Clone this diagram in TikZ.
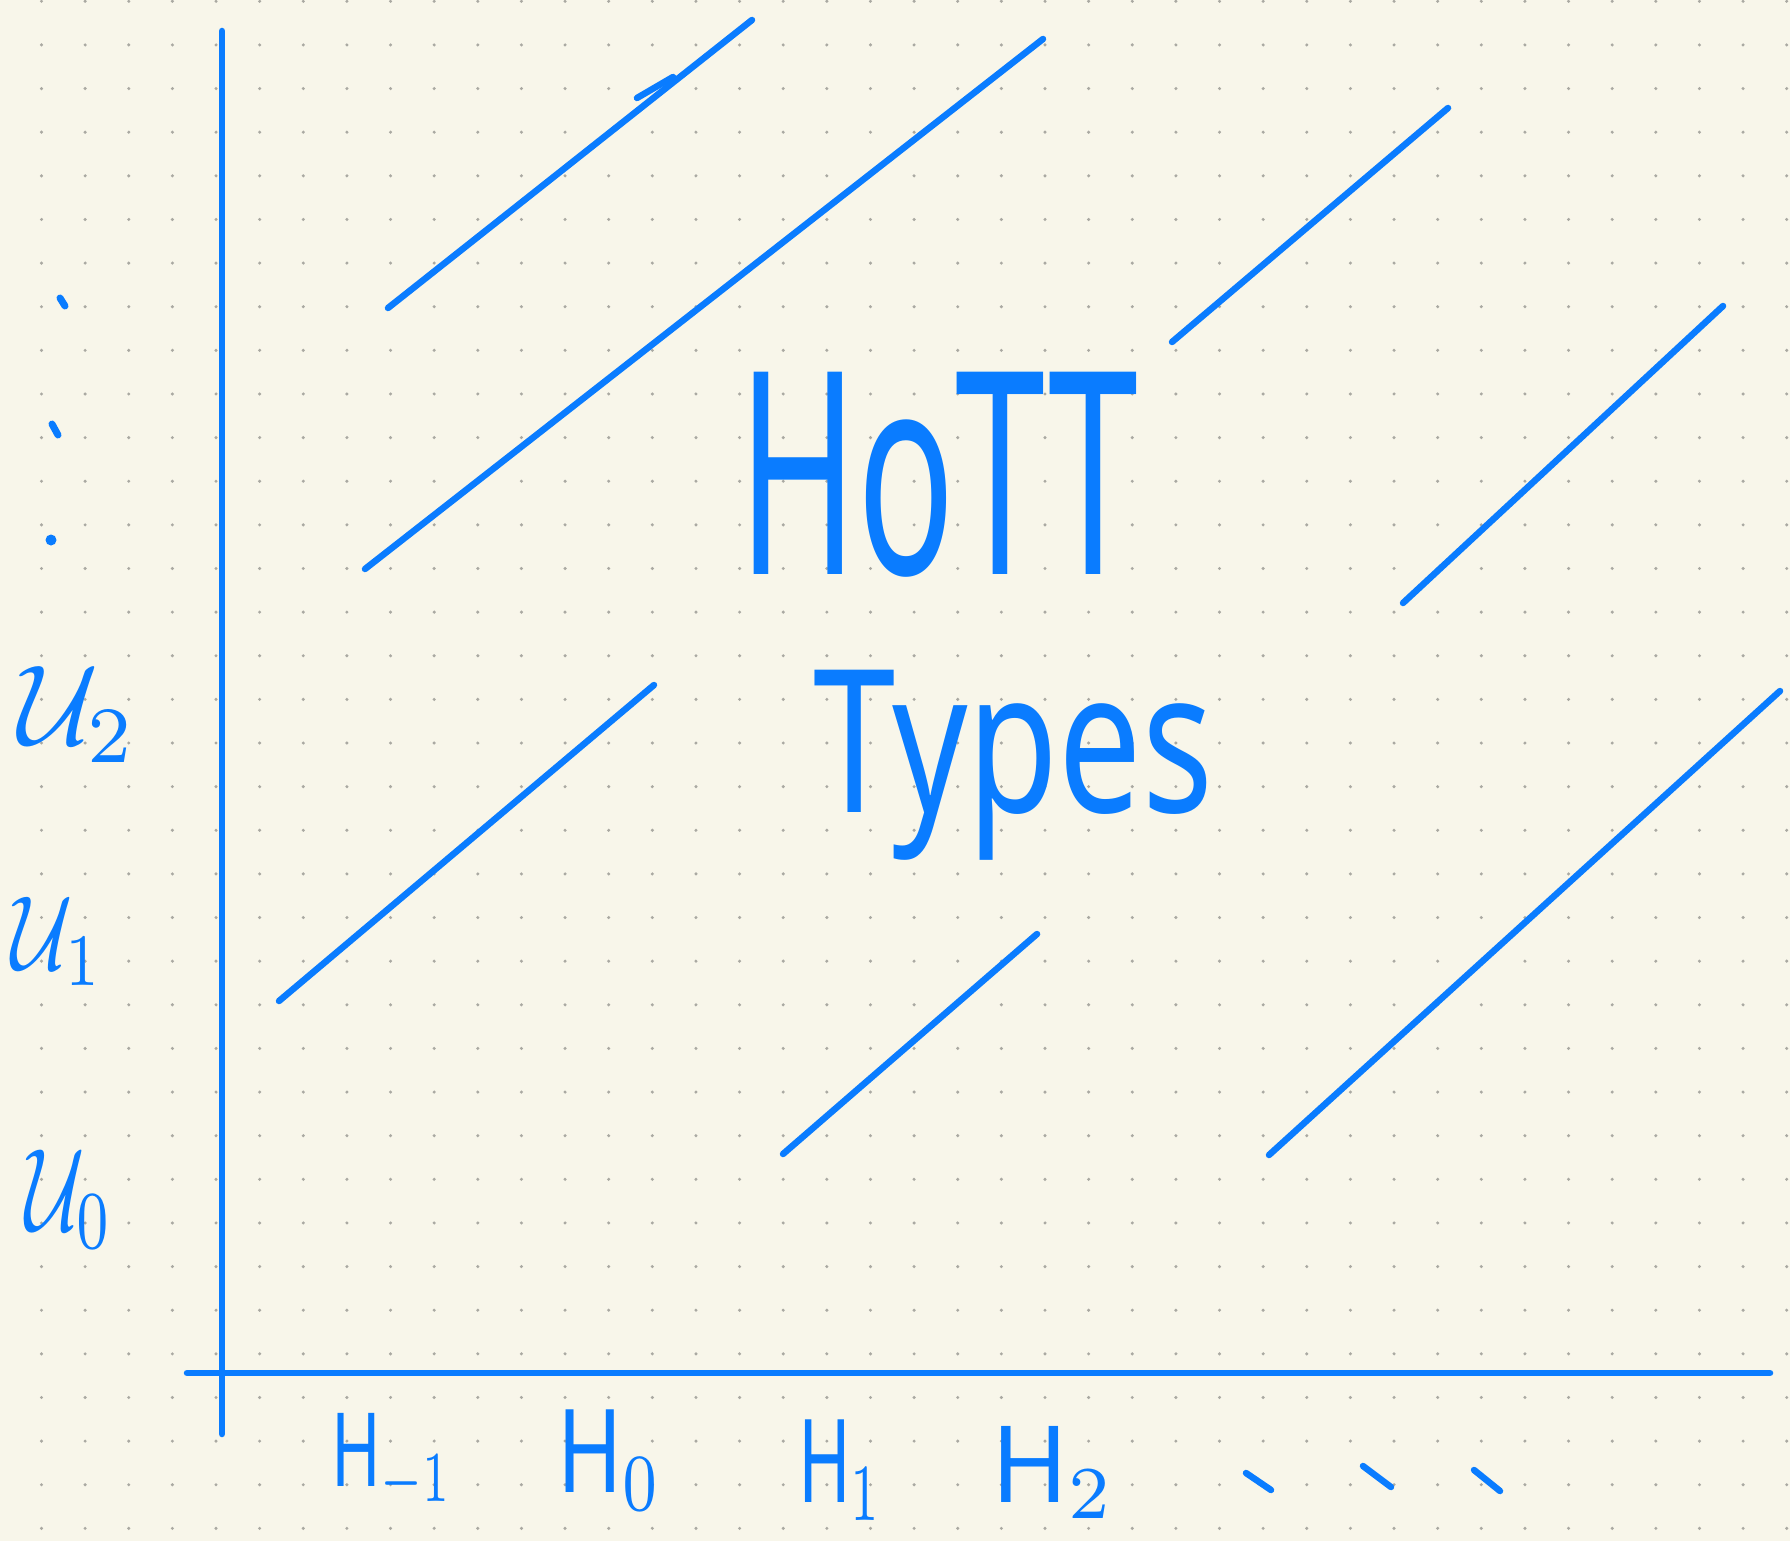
\documentclass[tikz,border=0pt]{standalone}
\usepackage{fontspec}
\setmainfont{Noto Sans}
\usepackage{graphicx}
\definecolor{paper}{HTML}{F8F6EA}
\definecolor{ink}{HTML}{0A7CFF}
\definecolor{dotgray}{HTML}{AAA9A2}
\tikzset{
  pen/.style={draw=ink, line width=6.5pt, line cap=round, line join=round},
  hand/.style={text=ink, inner sep=0pt, outer sep=0pt, anchor=north west},
}
\newcommand{\fitbox}[3]{\resizebox*{#1pt}{#2pt}{#3}}
\begin{document}
\begin{tikzpicture}[x=1pt,y=-1pt]
\fill[paper] (0,0) rectangle (1790,1541);
\useasboundingbox (0,0) rectangle (1790,1541);
% dot grid
\foreach \i in {0,...,40}{
  \foreach \j in {0,...,35}{
    \fill[dotgray] ({41.5+43.63*\i},{1.3+43.63*\j}) circle (1.7);
  }
}
% axes
\coordinate (ytop) at (222,31);
\coordinate (ybot) at (222,1434);
\coordinate (xleft) at (187,1373);
\coordinate (xright) at (1770,1373);
\draw[pen] (ytop) -- (ybot);
\draw[pen] (xleft) -- (xright);
% diagonal strokes
\coordinate (a1) at (388,308); \coordinate (b1) at (752,20);
\coordinate (t1) at (637,98);  \coordinate (t2) at (673,77);
\coordinate (a2) at (365,569); \coordinate (b2) at (1043,39);
\coordinate (a3) at (1172,342); \coordinate (b3) at (1448,108);
\coordinate (a4) at (1403,603); \coordinate (b4) at (1723,306);
\coordinate (a5) at (279,1001); \coordinate (b5) at (654,685);
\coordinate (a6) at (783,1154); \coordinate (b6) at (1037,934);
\coordinate (a7) at (1269,1155); \coordinate (b7) at (1780,691);
\draw[pen] (a1) -- (b1);
\draw[pen] (t1) -- (t2);
\draw[pen] (a2) -- (b2);
\draw[pen] (a3) -- (b3);
\draw[pen] (a4) -- (b4);
\draw[pen] (a5) -- (b5);
\draw[pen] (a6) -- (b6);
\draw[pen] (a7) -- (b7);
% vertical ellipsis on the left
\coordinate (v1a) at (60,298); \coordinate (v1b) at (65,306);
\coordinate (v2a) at (52,424); \coordinate (v2b) at (58,435);
\draw[pen, line width=7pt] (v1a) -- (v1b);
\draw[pen, line width=7pt] (v2a) -- (v2b);
\fill[ink] (51,540) circle (5.5);
% horizontal ellipsis at the bottom
\coordinate (h1a) at (1246,1473); \coordinate (h1b) at (1271,1490);
\coordinate (h2a) at (1363,1466); \coordinate (h2b) at (1391,1487);
\coordinate (h3a) at (1474,1470); \coordinate (h3b) at (1500,1491);
\draw[pen] (h1a) -- (h1b);
\draw[pen] (h2a) -- (h2b);
\draw[pen] (h3a) -- (h3b);
% texts
\node[hand] (hott) at (738,372) {\fitbox{400}{205}{HoTT}};
\node[hand] (types) at (813,670) {\fitbox{400}{190}{Types}};
\node[hand] (u2) at (18,667) {\fitbox{119}{95}{$\mathcal{U}_2$}};
\node[hand] (u1) at (12,897) {\fitbox{91}{88}{$\mathcal{U}_1$}};
\node[hand] (u0) at (25,1150) {\fitbox{88}{98}{$\mathcal{U}_0$}};
\node[hand] (hm1) at (331,1413) {\fitbox{122}{97}{$\mathrm{H}_{-1}$}};
\node[hand] (h0) at (557,1410) {\fitbox{105}{100}{$\mathrm{H}_0$}};
\node[hand] (h1) at (798,1420) {\fitbox{85}{100}{$\mathrm{H}_1$}};
\node[hand] (h2) at (991,1426) {\fitbox{124}{92}{$\mathrm{H}_2$}};
\end{tikzpicture}
\end{document}
